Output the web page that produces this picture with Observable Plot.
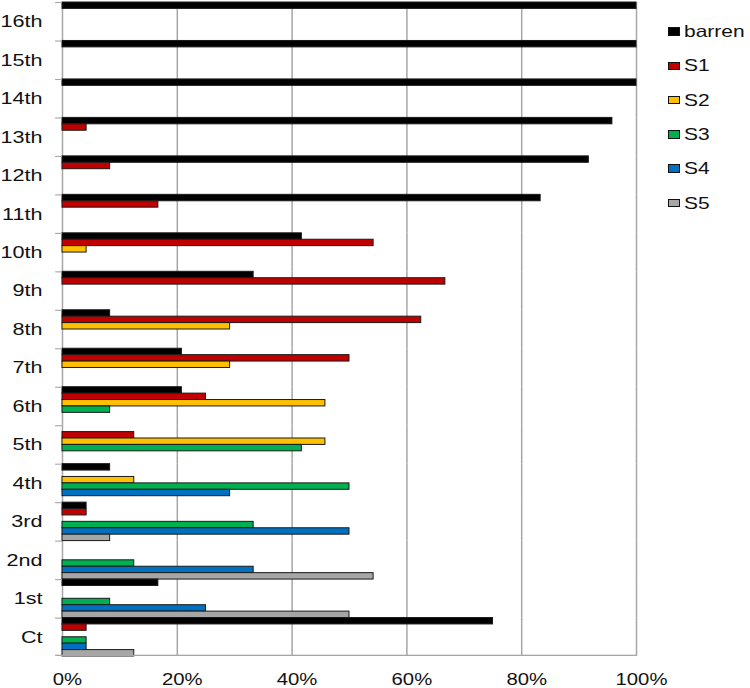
<!DOCTYPE html>
<html><head><meta charset="utf-8">
<script src="https://cdn.jsdelivr.net/npm/d3@7"></script>
<script src="https://cdn.jsdelivr.net/npm/@observablehq/plot@0.6"></script>
<style>
body{margin:0;background:#fff;font-family:"Liberation Sans",Arial,sans-serif;}
#wrap{position:relative;width:750px;height:688px;overflow:hidden;}
#legend{position:absolute;left:668px;top:14.4px;}
.item{display:flex;align-items:center;height:34.3px;}
.sw{width:12px;height:8.5px;border:1px solid #111;box-sizing:border-box;margin-right:4px;flex:none;}
.lab{font-size:16.5px;color:#111;display:inline-block;transform:scaleX(1.27);transform-origin:left center;white-space:nowrap;}
</style></head><body>
<div id="wrap"><div id="chart"></div><div id="legend"></div></div>
<script>
const categories = ["Ct","1st","2nd","3rd","4th","5th","6th","7th","8th","9th","10th","11th","12th","13th","14th","15th","16th"];
const seriesNames = ["barren","S1","S2","S3","S4","S5"];
const seriesColors = ["#000000","#C00000","#FFC000","#00B050","#0070C0","#A6A6A6"];
//                Ct    1st   2nd   3rd   4th   5th   6th   7th   8th   9th   10th  11th  12th  13th  14th 15th 16th
const barren = [75,   16.7, 0,    4.2,  8.3,  0,    20.8, 20.8, 8.3,  33.3, 41.7, 83.3, 91.7, 95.8, 100, 100, 100];
const s1     = [4.2,  0,    0,    4.2,  0,    12.5, 25,   50,   62.5, 66.7, 54.2, 16.7, 8.3,  4.2,  0,   0,   0];
const s2     = [0,    0,    0,    0,    12.5, 45.8, 45.8, 29.2, 29.2, 0,    4.2,  0,    0,    0,    0,   0,   0];
const s3     = [4.2,  8.3,  12.5, 33.3, 50,   41.7, 8.3,  0,    0,    0,    0,    0,    0,    0,    0,   0,   0];
const s4     = [4.2,  25,   33.3, 50,   29.2, 0,    0,    0,    0,    0,    0,    0,    0,    0,    0,   0,   0];
const s5     = [12.5, 50,   54.2, 8.3,  0,    0,    0,    0,    0,    0,    0,    0,    0,    0,    0,   0,   0];
const xTicks = [0, 20, 40, 60, 80, 100];

const valuesBySeries = [barren, s1, s2, s3, s4, s5];
const rows = [];
categories.forEach((c, i) => seriesNames.forEach((s, j) => {
  const v = valuesBySeries[j][i];
  if (v > 0) rows.push({category: c, series: s, value: v});
}));
const tickRows = categories.map(c => ({category: c}));
const bottomRows = [{category: categories[0]}];
const firstSeries = seriesNames[0], lastSeries = seriesNames[seriesNames.length - 1];
const gray = "#a6a6a6";

const chart = Plot.plot({
  width: 750, height: 688,
  marginLeft: 62, marginRight: 114, marginTop: 2, marginBottom: 32,
  style: {fontFamily: "Liberation Sans, Arial, sans-serif", color: "#111", background: "white", overflow: "visible"},
  x: {domain: [0, 100]},
  y: {domain: seriesNames, padding: 0, round: false, axis: null},
  fy: {domain: [...categories].reverse(), padding: 0, round: false, label: null},
  color: {domain: seriesNames, range: seriesColors},
  marks: [
    Plot.gridX(xTicks.slice(1), {stroke: gray, strokeOpacity: 1, strokeWidth: 1.5}),
    Plot.ruleX([0], {stroke: gray, strokeWidth: 1.5}),
    Plot.barX(rows, {x: "value", y: "series", fy: "category", fill: "series", stroke: "#1a1a1a", strokeWidth: 1}),
    Plot.barX(tickRows, {x1: -1.2, x2: 0, y: () => firstSeries, fy: "category", fill: gray, insetBottom: 5.3}),
    Plot.barX(bottomRows, {x1: -1.2, x2: 100, y: () => lastSeries, fy: "category", fill: gray, insetTop: 5.1}),
    Plot.axisFy({anchor: "left", tickSize: 0, tickPadding: 20, fontSize: 17, label: null}),
    Plot.axisX({anchor: "bottom", ticks: xTicks, tickFormat: d => d + "%", tickSize: 0, tickPadding: 17, fontSize: 16, label: null, dx: 5})
  ]
});

chart.querySelectorAll("text").forEach(t => {
  const tr = t.getAttribute("transform");
  if (tr) t.setAttribute("transform", tr + " scale(1.27,1)");
  else {
    const x = +t.getAttribute("x") || 0, y = +t.getAttribute("y") || 0;
    t.setAttribute("transform", `translate(${x},${y}) scale(1.27,1) translate(${-x},${-y})`);
  }
});
document.getElementById("chart").appendChild(chart);

const legend = document.getElementById("legend");
seriesNames.forEach((s, i) => {
  const item = document.createElement("div");
  item.className = "item";
  const sw = document.createElement("span");
  sw.className = "sw";
  sw.style.background = seriesColors[i];
  const lab = document.createElement("span");
  lab.className = "lab";
  lab.textContent = s;
  item.appendChild(sw); item.appendChild(lab);
  legend.appendChild(item);
});
</script>
</body></html>
